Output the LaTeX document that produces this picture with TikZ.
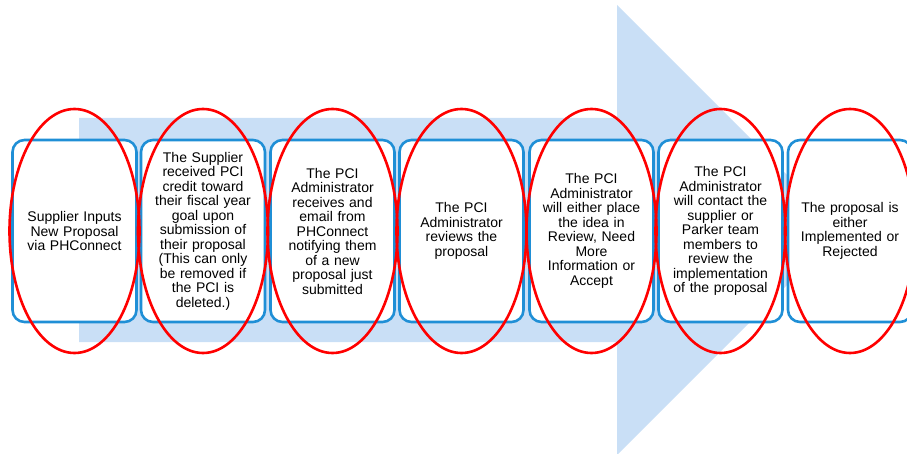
\documentclass[tikz,border=0pt]{standalone}
\usepackage{fontspec}
\setmainfont{Liberation Sans}
\usepackage{xcolor}
\definecolor{shaftBlue}{HTML}{C9DFF6}
\definecolor{boxBlue}{HTML}{1F8FD6}
\definecolor{ringRed}{HTML}{FF0000}

\begin{document}
\begin{tikzpicture}[x=1pt, y=-1pt,
    stepbox/.style={draw=boxBlue, line width=2.6pt, fill=white, rounded corners=12pt,
        minimum width=124pt, minimum height=182pt, text width=120pt, align=center,
        inner sep=0pt, font=\fontsize{14}{14.5}\selectfont},
    ring/.style={draw=ringRed, line width=2.6pt}]
    \useasboundingbox (0, 0) rectangle (907, 454);
    \clip (0, 0) rectangle (907, 454);

    % big background arrow
    \fill[shaftBlue] (79, 118) -- (617, 118) -- (617, 5) -- (842, 230)
        -- (617, 455) -- (617, 342) -- (79, 342) -- cycle;

    \node[stepbox] (b1) at (74.5, 231) {Supplier Inputs\\ New Proposal\\ via PHConnect};
    \node[stepbox] (b2) at (203, 231) {The Supplier\\ received PCI\\ credit toward\\ their fiscal year\\ goal upon\\ submission of\\ their proposal\\ (This can only\\ be removed if\\ the PCI is\\ deleted.)};
    \node[stepbox] (b3) at (332.5, 231) {The PCI\\ Administrator\\ receives and\\ email from\\ PHConnect\\ notifying them\\ of a new\\ proposal just\\ submitted};
    \node[stepbox] (b4) at (461.5, 231) {The PCI\\ Administrator\\ reviews the\\ proposal};
    \node[stepbox] (b5) at (591.5, 231) {The PCI\\ Administrator\\ will either place\\ the idea in\\ Review, Need\\ More\\ Information or\\ Accept};
    \node[stepbox] (b6) at (720.5, 231) {The PCI\\ Administrator\\ will contact the\\ supplier or\\ Parker team\\ members to\\ review the\\ implementation\\ of the proposal};
    \node[stepbox] (b7) at (850, 231) {The proposal is\\ either\\ Implemented or\\ Rejected};

    % red rings over each step
    \foreach \b in {b1, b2, b3, b4, b5, b6, b7}
        \draw[ring] (\b.center) ellipse (65 and 122);
\end{tikzpicture}
\end{document}
